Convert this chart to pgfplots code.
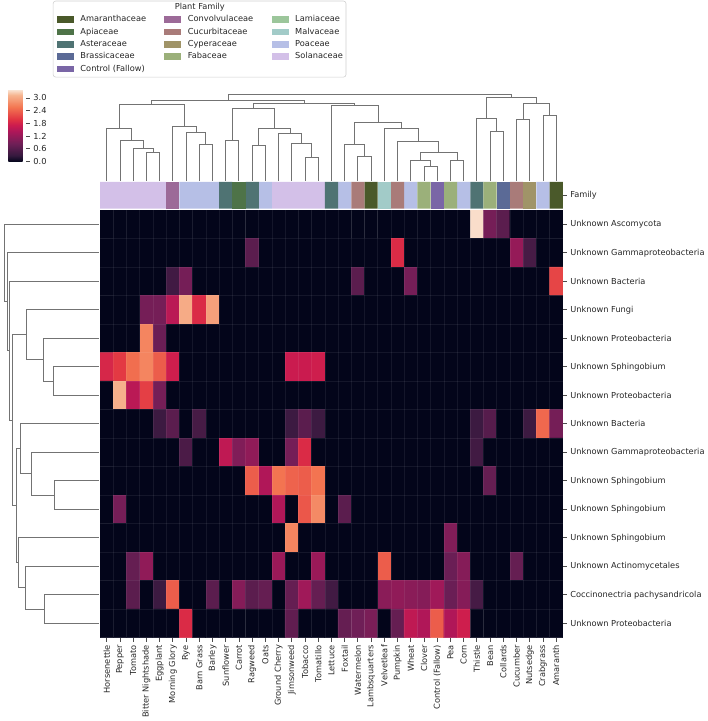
\documentclass[border=0pt]{standalone}
\usepackage{pgfplots}
\pgfplotsset{compat=1.18}
\usepackage{fontspec}
\setmainfont{DejaVu Sans}
\newcommand{\lbl}{\fontsize{8.3}{9.96}\selectfont}
\definecolor{famAmar}{RGB}{74,89,42}
\definecolor{famApi}{RGB}{78,115,72}
\definecolor{famAst}{RGB}{79,115,115}
\definecolor{famBra}{RGB}{91,106,150}
\definecolor{famCtl}{RGB}{122,102,166}
\definecolor{famCon}{RGB}{156,106,152}
\definecolor{famCuc}{RGB}{169,123,121}
\definecolor{famCyp}{RGB}{160,148,104}
\definecolor{famFab}{RGB}{155,176,122}
\definecolor{famLam}{RGB}{156,198,155}
\definecolor{famMal}{RGB}{162,203,200}
\definecolor{famPoa}{RGB}{182,191,230}
\definecolor{famSol}{RGB}{211,192,232}
\pgfplotsset{dend/.style={black!55, line width=0.9pt, mark=none}}
\begin{document}
\begin{tikzpicture}[x=1pt,y=1pt]
\path (0pt,0pt) rectangle (709pt,721pt);
\draw[rounded corners=2.5pt, draw=black!18, fill=white, line width=0.6pt] (53.5pt,644pt) rectangle (348pt,720.5pt);
\node[font=\lbl, text=black!85] at (201pt,714.2pt) {Plant Family};

% legend axis
\begin{axis}[at={(53.3pt,643.7pt)}, anchor=south west, scale only axis, width=295pt, height=77.3pt,
  xmin=0, xmax=1, ymin=0, ymax=1, hide axis,
  legend columns=3, legend cell align=left,
  legend style={at={(0.01254,0.8054)}, anchor=north west, draw=none, fill=none, font=\lbl, text=black!85,
    inner sep=0pt, row sep=4.3pt, nodes={inner sep=0pt, outer sep=0pt, text height=6.3pt, text depth=1.8pt}},
  legend image code/.code={\fill[#1, draw=none] (0pt,-3.3pt) rectangle (17pt,3.3pt);}]
\addlegendimage{fill=famAmar}\addlegendentry{\makebox[91pt][l]{\hspace{6.7pt}Amaranthaceae}}
\addlegendimage{fill=famCon}\addlegendentry{\makebox[91pt][l]{\hspace{6.7pt}Convolvulaceae}}
\addlegendimage{fill=famLam}\addlegendentry{\makebox[56pt][l]{\hspace{6.7pt}Lamiaceae}}
\addlegendimage{fill=famApi}\addlegendentry{\makebox[91pt][l]{\hspace{6.7pt}Apiaceae}}
\addlegendimage{fill=famCuc}\addlegendentry{\makebox[91pt][l]{\hspace{6.7pt}Cucurbitaceae}}
\addlegendimage{fill=famMal}\addlegendentry{\makebox[56pt][l]{\hspace{6.7pt}Malvaceae}}
\addlegendimage{fill=famAst}\addlegendentry{\makebox[91pt][l]{\hspace{6.7pt}Asteraceae}}
\addlegendimage{fill=famCyp}\addlegendentry{\makebox[91pt][l]{\hspace{6.7pt}Cyperaceae}}
\addlegendimage{fill=famPoa}\addlegendentry{\makebox[56pt][l]{\hspace{6.7pt}Poaceae}}
\addlegendimage{fill=famBra}\addlegendentry{\makebox[91pt][l]{\hspace{6.7pt}Brassicaceae}}
\addlegendimage{fill=famFab}\addlegendentry{\makebox[91pt][l]{\hspace{6.7pt}Fabaceae}}
\addlegendimage{fill=famSol}\addlegendentry{\makebox[56pt][l]{\hspace{6.7pt}Solanaceae}}
\addlegendimage{fill=famCtl}\addlegendentry{\makebox[91pt][l]{\hspace{6.7pt}Control (Fallow)}}
\end{axis}

% heatmap
\begin{axis}[at={(100.7pt,80.3pt)}, anchor=south west, scale only axis, width=465.3pt, height=430pt,
  xmin=-0.5, xmax=34.5, ymin=-0.5, ymax=14.5, y dir=reverse, enlargelimits=false,
  axis line style={draw=none},
  xtick={0,...,34},
  xticklabels={Horsenettle, Pepper, Tomato, Bitter Nightshade, Eggplant, Morning Glory, Rye, Barn Grass, Barley, Sunflower, Carrot, Ragweed, Oats, Ground Cherry, Jimsonweed, Tobacco, Tomatillo, Lettuce, Foxtail, Watermelon, Lambsquarters, Velvetleaf, Pumpkin, Wheat, Clover, Control (Fallow), Pea, Corn, Thistle, Bean, Collards, Cucumber, Nutsedge, Crabgrass, Amaranth},
  ytick={0,...,14},
  yticklabels={Unknown Ascomycota, Unknown Gammaproteobacteria, Unknown Bacteria, Unknown Fungi, Unknown Proteobacteria, Unknown Sphingobium, Unknown Proteobacteria, Unknown Bacteria, Unknown Gammaproteobacteria, Unknown Sphingobium, Unknown Sphingobium, Unknown Sphingobium, Unknown Actinomycetales, Coccinonectria pachysandricola, Unknown Proteobacteria},
  xtick pos=left, xticklabel pos=left, ytick pos=right, yticklabel pos=right,
  xticklabel style={rotate=90, anchor=east, font=\lbl, text=black!85},
  yticklabel style={anchor=west, font=\lbl, text=black!85},
  tick align=outside, major tick length=4pt,
  major tick style={black!70, line width=0.8pt},
  minor xtick={0.5,1.5,...,33.5}, minor ytick={0.5,1.5,...,13.5},
  minor tick length=0pt, xminorgrids, yminorgrids,
  minor grid style={white, opacity=0.07, line width=0.6pt},
  axis on top,
  colormap={rocket}{rgb255(0pt)=(3,5,26) rgb255(1pt)=(53,25,62) rgb255(3pt)=(112,31,87) rgb255(5pt)=(173,23,89) rgb255(6pt)=(203,27,79) rgb255(7pt)=(225,51,66) rgb255(9pt)=(243,118,81) rgb255(11pt)=(246,180,143) rgb255(12pt)=(250,235,221)},
  point meta min=0, point meta max=3.42,
  colorbar,
  colorbar style={at={(parent axis.south west)}, anchor=south west, xshift=-100.7pt, yshift=478.7pt,
    scale only axis, width=18pt, height=73pt,
    ytick={0,0.6,1.2,1.8,2.4,3.0},
    yticklabel style={font=\lbl, text=black!85, /pgf/number format/.cd, fixed, fixed zerofill, precision=1, assume math mode=true},
    axis line style={draw=none}, tick align=outside, major tick length=3.5pt,
    major tick style={black!70, line width=0.8pt}, ytick pos=right, yticklabel pos=right}
]
\addplot[matrix plot*, mesh/cols=35, mesh/ordering=x varies, point meta=explicit]
table[row sep=\\, header=false, x expr={\coordindex-35*floor((\coordindex+0.5)/35)}, y expr={floor((\coordindex+0.5)/35)}, meta index=0] {
0\\ 0\\ 0\\ 0\\ 0\\ 0\\ 0\\ 0\\ 0\\ 0\\ 0\\ 0\\ 0\\ 0\\ 0\\ 0\\ 0\\ 0\\ 0\\ 0\\ 0\\ 0\\ 0\\ 0\\ 0\\ 0\\ 0\\ 0\\ 3.35\\ 0.9\\ 0.65\\ 0\\ 0\\ 0\\ 0\\
0\\ 0\\ 0\\ 0\\ 0\\ 0\\ 0\\ 0\\ 0\\ 0\\ 0\\ 0.65\\ 0\\ 0\\ 0\\ 0\\ 0\\ 0\\ 0\\ 0\\ 0\\ 0\\ 1.9\\ 0\\ 0\\ 0\\ 0\\ 0\\ 0\\ 0\\ 0\\ 1.2\\ 0.45\\ 0\\ 0\\
0\\ 0\\ 0\\ 0\\ 0\\ 0.4\\ 0.9\\ 0\\ 0\\ 0\\ 0\\ 0\\ 0\\ 0\\ 0\\ 0\\ 0\\ 0\\ 0\\ 0.65\\ 0\\ 0\\ 0\\ 0.9\\ 0\\ 0\\ 0\\ 0\\ 0\\ 0\\ 0\\ 0\\ 0\\ 0\\ 2.15\\
0\\ 0\\ 0\\ 0.9\\ 0.9\\ 1.55\\ 3.05\\ 1.9\\ 2.95\\ 0\\ 0\\ 0\\ 0\\ 0\\ 0\\ 0\\ 0\\ 0\\ 0\\ 0\\ 0\\ 0\\ 0\\ 0\\ 0\\ 0\\ 0\\ 0\\ 0\\ 0\\ 0\\ 0\\ 0\\ 0\\ 0\\
0\\ 0\\ 0\\ 2.7\\ 0.8\\ 0\\ 0\\ 0\\ 0\\ 0\\ 0\\ 0\\ 0\\ 0\\ 0\\ 0\\ 0\\ 0\\ 0\\ 0\\ 0\\ 0\\ 0\\ 0\\ 0\\ 0\\ 0\\ 0\\ 0\\ 0\\ 0\\ 0\\ 0\\ 0\\ 0\\
1.85\\ 2.05\\ 2.5\\ 2.7\\ 2.35\\ 1.75\\ 0\\ 0\\ 0\\ 0\\ 0\\ 0\\ 0\\ 0\\ 1.7\\ 1.7\\ 1.75\\ 0\\ 0\\ 0\\ 0\\ 0\\ 0\\ 0\\ 0\\ 0\\ 0\\ 0\\ 0\\ 0\\ 0\\ 0\\ 0\\ 0\\ 0\\
0\\ 3.1\\ 1.55\\ 2.1\\ 0.9\\ 0\\ 0\\ 0\\ 0\\ 0\\ 0\\ 0\\ 0\\ 0\\ 0\\ 0\\ 0\\ 0\\ 0\\ 0\\ 0\\ 0\\ 0\\ 0\\ 0\\ 0\\ 0\\ 0\\ 0\\ 0\\ 0\\ 0\\ 0\\ 0\\ 0\\
0\\ 0\\ 0\\ 0\\ 0.35\\ 0.65\\ 0\\ 0.45\\ 0\\ 0\\ 0\\ 0\\ 0\\ 0\\ 0.35\\ 0.65\\ 0.35\\ 0\\ 0\\ 0\\ 0\\ 0\\ 0\\ 0\\ 0\\ 0\\ 0\\ 0\\ 0.35\\ 0.6\\ 0\\ 0\\ 0.35\\ 2.45\\ 0.9\\
0\\ 0\\ 0\\ 0\\ 0\\ 0\\ 0.5\\ 0\\ 0\\ 1.6\\ 1.0\\ 1.15\\ 0\\ 0\\ 0.9\\ 1.9\\ 0\\ 0\\ 0\\ 0\\ 0\\ 0\\ 0\\ 0\\ 0\\ 0\\ 0\\ 0\\ 0.4\\ 0\\ 0\\ 0\\ 0\\ 0\\ 0\\
0\\ 0\\ 0\\ 0\\ 0\\ 0\\ 0\\ 0\\ 0\\ 0\\ 0\\ 2.35\\ 1.45\\ 2.55\\ 2.4\\ 2.35\\ 2.55\\ 0\\ 0\\ 0\\ 0\\ 0\\ 0\\ 0\\ 0\\ 0\\ 0\\ 0\\ 0\\ 0.75\\ 0\\ 0\\ 0\\ 0\\ 0\\
0\\ 0.9\\ 0\\ 0\\ 0\\ 0\\ 0\\ 0\\ 0\\ 0\\ 0\\ 0\\ 0\\ 1.45\\ 0\\ 2.3\\ 2.75\\ 0\\ 0.65\\ 0\\ 0\\ 0\\ 0\\ 0\\ 0\\ 0\\ 0\\ 0\\ 0\\ 0\\ 0\\ 0\\ 0\\ 0\\ 0\\
0\\ 0\\ 0\\ 0\\ 0\\ 0\\ 0\\ 0\\ 0\\ 0\\ 0\\ 0\\ 0\\ 0\\ 2.7\\ 0\\ 0\\ 0\\ 0\\ 0\\ 0\\ 0\\ 0\\ 0\\ 0\\ 0\\ 1.0\\ 0\\ 0\\ 0\\ 0\\ 0\\ 0\\ 0\\ 0\\
0\\ 0\\ 0.75\\ 1.15\\ 0\\ 0\\ 0\\ 0\\ 0\\ 0\\ 0\\ 0\\ 0\\ 1.25\\ 0\\ 0\\ 1.25\\ 0\\ 0\\ 0\\ 0\\ 2.35\\ 0\\ 0\\ 0\\ 0\\ 0.8\\ 1.05\\ 0\\ 0\\ 0\\ 0.75\\ 0\\ 0\\ 0\\
0\\ 0\\ 0.65\\ 0\\ 0.35\\ 2.35\\ 0\\ 0\\ 0.65\\ 0\\ 1.05\\ 0.65\\ 0.75\\ 0\\ 0.75\\ 1.3\\ 0.75\\ 0.4\\ 0\\ 0\\ 0\\ 1.1\\ 1.15\\ 1.1\\ 1.05\\ 1.3\\ 0.8\\ 1.05\\ 0.45\\ 0\\ 0\\ 0\\ 0\\ 0\\ 0\\
0\\ 0\\ 0\\ 0\\ 0\\ 0\\ 1.9\\ 0\\ 0\\ 0\\ 0\\ 0\\ 0\\ 0\\ 0.7\\ 0\\ 0\\ 0\\ 0.75\\ 0.85\\ 0.95\\ 0\\ 0.75\\ 1.6\\ 1.45\\ 2.35\\ 1.45\\ 1.75\\ 0\\ 0\\ 0\\ 0\\ 0\\ 0\\ 0\\
};
\end{axis}

% family strip
\begin{axis}[at={(100.7pt,511.7pt)}, anchor=south west, scale only axis, width=465.3pt, height=27pt,
  xmin=-0.5, xmax=34.5, ymin=0, ymax=1, axis line style={draw=none},
  xtick=\empty, ytick={0.5}, yticklabels={Family}, ytick pos=right, yticklabel pos=right,
  yticklabel style={anchor=west, font=\lbl, text=black!85},
  tick align=outside, major tick length=4pt, major tick style={black!70, line width=0.8pt}]
\addplot[ybar, bar width=1, bar shift=0pt, fill=famSol, draw=none] coordinates {(0,1)(1,1)(2,1)(3,1)(4,1)(13,1)(14,1)(15,1)(16,1)};
\addplot[ybar, bar width=1, bar shift=0pt, fill=famCon, draw=none] coordinates {(5,1)};
\addplot[ybar, bar width=1, bar shift=0pt, fill=famPoa, draw=none] coordinates {(6,1)(7,1)(8,1)(12,1)(18,1)(23,1)(27,1)(33,1)};
\addplot[ybar, bar width=1, bar shift=0pt, fill=famAst, draw=none] coordinates {(9,1)(11,1)(17,1)(28,1)};
\addplot[ybar, bar width=1, bar shift=0pt, fill=famApi, draw=none] coordinates {(10,1)};
\addplot[ybar, bar width=1, bar shift=0pt, fill=famCuc, draw=none] coordinates {(19,1)(22,1)(31,1)};
\addplot[ybar, bar width=1, bar shift=0pt, fill=famAmar, draw=none] coordinates {(20,1)(34,1)};
\addplot[ybar, bar width=1, bar shift=0pt, fill=famMal, draw=none] coordinates {(21,1)};
\addplot[ybar, bar width=1, bar shift=0pt, fill=famFab, draw=none] coordinates {(24,1)(26,1)(29,1)};
\addplot[ybar, bar width=1, bar shift=0pt, fill=famCtl, draw=none] coordinates {(25,1)};
\addplot[ybar, bar width=1, bar shift=0pt, fill=famBra, draw=none] coordinates {(30,1)};
\addplot[ybar, bar width=1, bar shift=0pt, fill=famCyp, draw=none] coordinates {(32,1)};
\end{axis}

% top dendrogram
\begin{axis}[at={(100.7pt,538.7pt)}, anchor=south west, scale only axis, width=465.3pt, height=92.3pt,
  xmin=-0.5, xmax=34.5, ymin=90, ymax=182.3, y dir=reverse, hide axis, clip=false]
\addplot[dend] coordinates {(3,181) (3,152.3) (4,152.3) (4,181)};
\addplot[dend] coordinates {(2,181) (2,148.3) (3.5,148.3) (3.5,152.3)};
\addplot[dend] coordinates {(1,181) (1,140.7) (2.75,140.7) (2.75,148.3)};
\addplot[dend] coordinates {(0,181) (0,129) (1.875,129) (1.875,140.7)};
\addplot[dend] coordinates {(7,181) (7,144.7) (8,144.7) (8,181)};
\addplot[dend] coordinates {(6,181) (6,132.3) (7.5,132.3) (7.5,144.7)};
\addplot[dend] coordinates {(5,181) (5,126.7) (6.75,126.7) (6.75,132.3)};
\addplot[dend] coordinates {(0.9375,129) (0.9375,104.7) (5.875,104.7) (5.875,126.7)};
\addplot[dend] coordinates {(9,181) (9,140.7) (10,140.7) (10,181)};
\addplot[dend] coordinates {(11,181) (11,145.7) (12,145.7) (12,181)};
\addplot[dend] coordinates {(15,181) (15,158) (16,158) (16,181)};
\addplot[dend] coordinates {(14,181) (14,144) (15.5,144) (15.5,158)};
\addplot[dend] coordinates {(13,181) (13,133.3) (14.75,133.3) (14.75,144)};
\addplot[dend] coordinates {(11.5,145.7) (11.5,129) (13.875,129) (13.875,133.3)};
\addplot[dend] coordinates {(9.5,140.7) (9.5,109) (12.6875,109) (12.6875,129)};
\addplot[dend] coordinates {(19,181) (19,156.7) (20,156.7) (20,181)};
\addplot[dend] coordinates {(18,181) (18,144.7) (19.5,144.7) (19.5,156.7)};
\addplot[dend] coordinates {(24,181) (24,167.3) (25,167.3) (25,181)};
\addplot[dend] coordinates {(23,181) (23,161.3) (24.5,161.3) (24.5,167.3)};
\addplot[dend] coordinates {(26,181) (26,161.3) (27,161.3) (27,181)};
\addplot[dend] coordinates {(23.75,161.3) (23.75,152.3) (26.5,152.3) (26.5,161.3)};
\addplot[dend] coordinates {(22,181) (22,141.7) (25.125,141.7) (25.125,152.3)};
\addplot[dend] coordinates {(21,181) (21,128.3) (23.5625,128.3) (23.5625,141.7)};
\addplot[dend] coordinates {(18.75,144.7) (18.75,123) (22.28,123) (22.28,128.3)};
\addplot[dend] coordinates {(17,181) (17,105.7) (20.52,105.7) (20.52,123)};
\addplot[dend] coordinates {(11.09,109) (11.09,104) (18.76,104) (18.76,105.7)};
\addplot[dend] coordinates {(3.406,104.7) (3.406,100) (14.93,100) (14.93,104)};
\addplot[dend] coordinates {(29,181) (29,131.7) (30,131.7) (30,181)};
\addplot[dend] coordinates {(28,181) (28,119) (29.5,119) (29.5,131.7)};
\addplot[dend] coordinates {(31,181) (31,120) (32,120) (32,181)};
\addplot[dend] coordinates {(33,181) (33,115.7) (34,115.7) (34,181)};
\addplot[dend] coordinates {(31.5,120) (31.5,103.3) (33.5,103.3) (33.5,115.7)};
\addplot[dend] coordinates {(28.75,119) (28.75,97.3) (32.5,97.3) (32.5,103.3)};
\addplot[dend] coordinates {(9.17,100) (9.17,94.7) (30.625,94.7) (30.625,97.3)};
\end{axis}

% left dendrogram
\begin{axis}[at={(0pt,80.3pt)}, anchor=south west, scale only axis, width=100.7pt, height=430pt,
  xmin=0, xmax=100.7, ymin=-0.5, ymax=14.5, y dir=reverse, hide axis, clip=false]
\addplot[dend] coordinates {(99.5,5) (53.3,5) (53.3,6) (99.5,6)};
\addplot[dend] coordinates {(99.5,4) (43.3,4) (43.3,5.5) (53.3,5.5)};
\addplot[dend] coordinates {(99.5,3) (26.7,3) (26.7,4.75) (43.3,4.75)};
\addplot[dend] coordinates {(99.5,9) (55,9) (55,10) (99.5,10)};
\addplot[dend] coordinates {(99.5,8) (31.7,8) (31.7,9.5) (55,9.5)};
\addplot[dend] coordinates {(99.5,7) (20.7,7) (20.7,8.75) (31.7,8.75)};
\addplot[dend] coordinates {(99.5,13) (44.3,13) (44.3,14) (99.5,14)};
\addplot[dend] coordinates {(99.5,12) (26,12) (26,13.5) (44.3,13.5)};
\addplot[dend] coordinates {(99.5,11) (18.3,11) (18.3,12.75) (26,12.75)};
\addplot[dend] coordinates {(20.7,7.875) (16.7,7.875) (16.7,11.875) (18.3,11.875)};
\addplot[dend] coordinates {(26.7,3.875) (12.7,3.875) (12.7,9.875) (16.7,9.875)};
\addplot[dend] coordinates {(99.5,2) (9.3,2) (9.3,6.875) (12.7,6.875)};
\addplot[dend] coordinates {(99.5,1) (7.3,1) (7.3,4.4375) (9.3,4.4375)};
\addplot[dend] coordinates {(99.5,0) (4.7,0) (4.7,2.71875) (7.3,2.71875)};
\end{axis}
\end{tikzpicture}
\end{document}
